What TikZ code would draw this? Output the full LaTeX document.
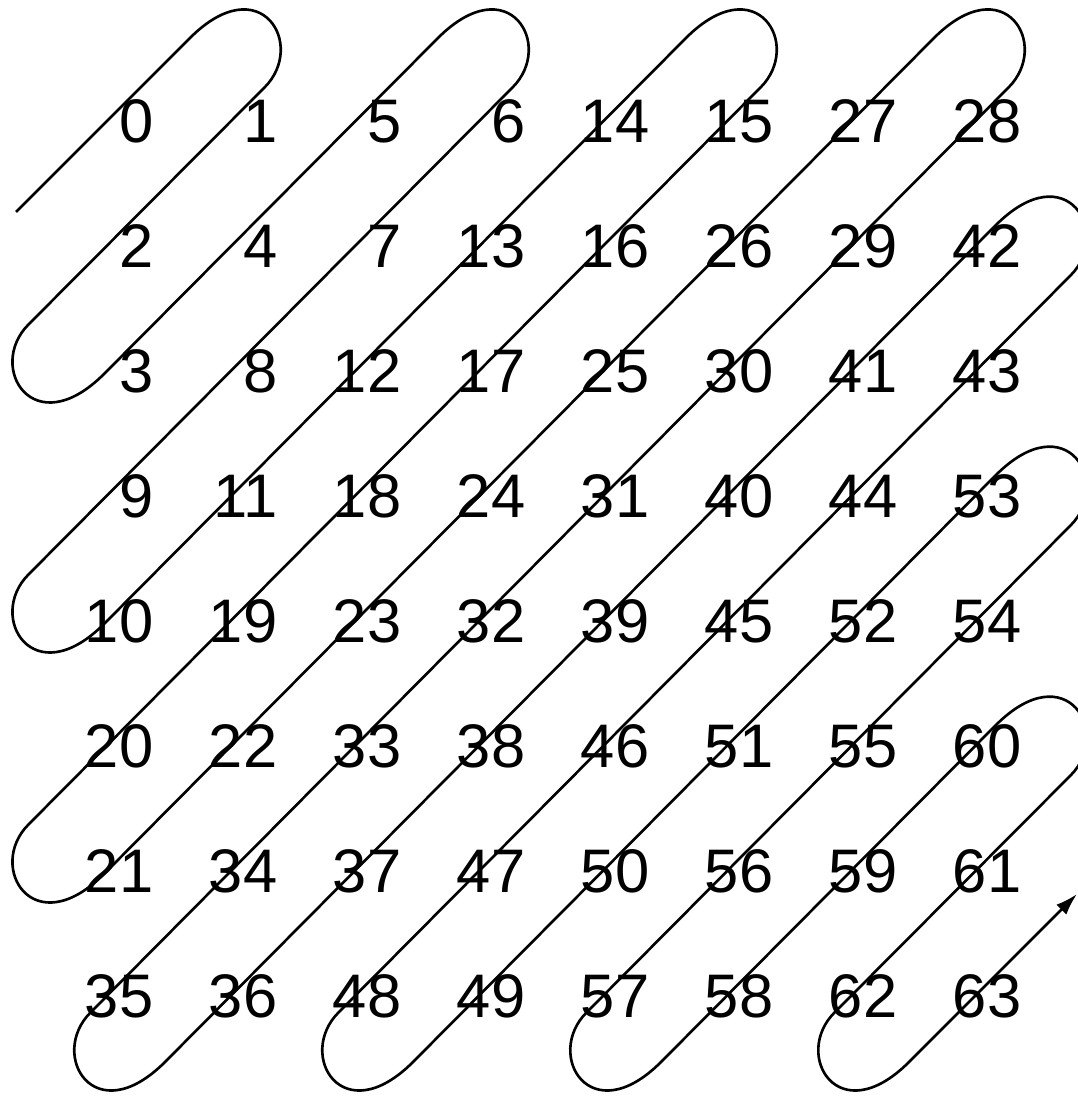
\documentclass[tikz,border=0pt]{standalone}
\usepackage{fontspec}
\setmainfont{Liberation Sans}
\usepackage{tikz}
\usetikzlibrary{arrows.meta,calc}
\tikzset{
  numnode/.style={inner sep=0pt,anchor=base east,
                  font=\fontsize{17.5}{20}\selectfont},
  zigzag/.style={line width=0.75pt,color=black,-{Latex[length=2.2mm,width=1.4mm]}},
  uploop/.style={out=45,in=45,out distance=1cm,in distance=0.6cm},
  downloop/.style={out=225,in=225,out distance=0.6cm,in distance=1cm}
}

\begin{document}
\begin{tikzpicture}
  \useasboundingbox (0,0) rectangle (10.78,10.98);

  \foreach \row [count=\r from 0] in
      {{0,1,5,6,14,15,27,28},{2,4,7,13,16,26,29,42},
       {3,8,12,17,25,30,41,43},{9,11,18,24,31,40,44,53},
       {10,19,23,32,39,45,52,54},{20,22,33,38,46,51,55,60},
       {21,34,37,47,50,56,59,61},{35,36,48,49,57,58,62,63}}
    \foreach \v [count=\c from 0] in \row {
      \coordinate (a\v) at ({0.85+1.24*\c},{9.55-1.25*\r});
      \node[numnode] (n\v) at ($(a\v)+(0.69,0)$) {\v};
    }

  \coordinate (start) at ($(a0)+(-0.69,-0.69)$);
  \coordinate (finish) at ($(a63)+(1.24,1.24)$);

  % top/right turns, then left/bottom turns
  \draw[zigzag] (start)
    -- ($(a0)+(1.05,1.05)$) to[uploop] ($(a1)+(0.555,0.555)$)
    -- ($(a2)+(-0.565,-0.565)$) to[downloop] ($(a3)+(0.19,0.19)$)
    -- ($(a5)+(1.05,1.05)$) to[uploop] ($(a6)+(0.555,0.555)$)
    -- ($(a9)+(-0.565,-0.565)$) to[downloop] ($(a10)+(0.19,0.19)$)
    -- ($(a14)+(1.05,1.05)$) to[uploop] ($(a15)+(0.555,0.555)$)
    -- ($(a20)+(-0.565,-0.565)$) to[downloop] ($(a21)+(0.19,0.19)$)
    -- ($(a27)+(1.05,1.05)$) to[uploop] ($(a28)+(0.555,0.555)$)
    -- ($(a35)+(0.055,0.055)$) to[downloop] ($(a36)+(-0.44,-0.44)$)
    -- ($(a42)+(0.43,0.43)$) to[uploop] ($(a43)+(1.175,1.175)$)
    -- ($(a48)+(0.055,0.055)$) to[downloop] ($(a49)+(-0.44,-0.44)$)
    -- ($(a53)+(0.43,0.43)$) to[uploop] ($(a54)+(1.175,1.175)$)
    -- ($(a57)+(0.055,0.055)$) to[downloop] ($(a58)+(-0.44,-0.44)$)
    -- ($(a60)+(0.43,0.43)$) to[uploop] ($(a61)+(1.175,1.175)$)
    -- ($(a62)+(0.055,0.055)$) to[downloop] ($(a63)+(-0.44,-0.44)$)
    -- (finish);
\end{tikzpicture}
\end{document}
